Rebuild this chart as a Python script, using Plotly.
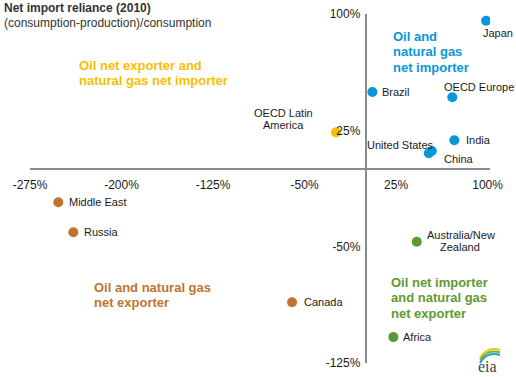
import plotly.graph_objects as go

# ---- data (percent net import reliance, 2010) ----
regions = ["Japan", "Brazil", "OECD Europe", "India", "United States", "China",
           "OECD Latin America", "Middle East", "Russia", "Canada",
           "Australia/New Zealand", "Africa"]
oil = [98.8, 5.6, 71.1, 72.8, 51.8, 54.3, -24.2, -251.8, -239.5, -60.2, 42.0, 22.8]
gas = [95.7, 49.7, 46.3, 18.6, 10.2, 11.7, 23.7, -21.4, -40.7, -85.8, -46.8, -108.3]
group = ["imp", "imp", "imp", "imp", "imp", "imp", "oexp", "exp", "exp", "exp", "oimp", "oimp"]

x_ticks = [-275, -200, -125, -50, 25, 100]
y_ticks = [100, 25, -50, -125]
x_range = [-275, 102]
y_range = [-125, 100]

colors = {"imp": "#0a96d8", "oexp": "#f7c000", "exp": "#bf7430", "oimp": "#5e9a32"}

# label placement: lines of text with pixel offsets from the marker
label_lines = {
    "Japan": [("Japan", 12, -12, "center")],
    "Brazil": [("Brazil", 8, 0, "left")],
    "OECD Europe": [("OECD Europe", 27, 10, "center")],
    "India": [("India", 10, 0, "left")],
    "United States": [("United States", 7, 8, "right")],
    "China": [("China", 10, -8, "left")],
    "OECD Latin America": [("OECD Latin", -53, 19, "center"), ("America", -53, 7, "center")],
    "Middle East": [("Middle East", 9, 0, "left")],
    "Russia": [("Russia", 9, 0, "left")],
    "Canada": [("Canada", 10, 0, "left")],
    "Australia/New Zealand": [("Australia/New", 44, 7, "center"), ("Zealand", 43, -5, "center")],
    "Africa": [("Africa", 8, 0, "left")],
}

FONT = "Liberation Sans, Arial, sans-serif"

fig = go.Figure()
for g in ["imp", "oexp", "exp", "oimp"]:
    idx = [i for i, gg in enumerate(group) if gg == g]
    fig.add_trace(go.Scatter(
        x=[oil[i] for i in idx], y=[gas[i] for i in idx],
        mode="markers", marker=dict(size=10, color=colors[g], line=dict(width=0)),
        hoverinfo="text", text=[regions[i] for i in idx], showlegend=False))

annotations = []
for r, xv, yv in zip(regions, oil, gas):
    for t, dx, dy, anc in label_lines[r]:
        annotations.append(dict(
            x=xv, y=yv, xref="x", yref="y", text=t,
            showarrow=False, xanchor=anc, yanchor="middle",
            xshift=dx, yshift=dy, font=dict(family=FONT, size=11, color="#1a1a1a")))

# quadrant labels (one annotation per line for tight line spacing)
quads = [
    (["Oil and", "natural gas", "net importer"], 20.9, 85.8, colors["imp"]),
    (["Oil net exporter and", "natural gas net importer"], -236.5, 67.1, colors["oexp"]),
    (["Oil and natural gas", "net exporter"], -224, -76.0, colors["exp"]),
    (["Oil net importer", "and natural gas", "net exporter"], 19.3, -72.8, colors["oimp"]),
]
for lines, xv, yv, c in quads:
    for i, t in enumerate(lines):
        annotations.append(dict(
            x=xv, y=yv, xref="x", yref="y", text="<b>" + t + "</b>", showarrow=False,
            xanchor="left", yanchor="middle", yshift=-15.5 * i,
            font=dict(family=FONT, size=13, color=c)))

# titles
annotations.append(dict(x=-0.061, y=1.0186, xref="paper", yref="paper",
                        text="<b>Net import reliance (2010)</b>", showarrow=False,
                        xanchor="left", yanchor="middle",
                        font=dict(family=FONT, size=12, color="#333333")))
annotations.append(dict(x=-0.061, y=0.974, xref="paper", yref="paper",
                        text="(consumption-production)/consumption", showarrow=False,
                        xanchor="left", yanchor="middle",
                        font=dict(family=FONT, size=12, color="#333333")))
# eia logo text
annotations.append(dict(x=(487 - 30) / 460, y=(363 - 366) / 349, xref="paper", yref="paper",
                        text="eia", showarrow=False, xanchor="center", yanchor="middle",
                        font=dict(family="Liberation Serif, serif", size=16, color="#444444")))

def px2paper(px, py):
    return (px - 30) / 460, (363 - py) / 349

shapes = []
for (c, off) in [("#f5c400", 0), ("#6fb53a", 2.5), ("#1aa0dc", 5)]:
    x0, y0 = px2paper(480, 358 + off)
    xc, yc = px2paper(487, 346 + off)
    x1, y1 = px2paper(500, 350 + off)
    shapes.append(dict(type="path", xref="paper", yref="paper",
                       path=f"M {x0},{y0} Q {xc},{yc} {x1},{y1}",
                       line=dict(color=c, width=2)))

fy = (0 - y_range[0]) / (y_range[1] - y_range[0])
fx = (0 - x_range[0]) / (x_range[1] - x_range[0])

fig.update_layout(
    width=516, height=377,
    margin=dict(l=30, r=26, t=14, b=14, autoexpand=False),
    paper_bgcolor="white", plot_bgcolor="white",
    font=dict(family=FONT, size=12, color="#1a1a1a"),
    xaxis=dict(range=x_range, tickvals=x_ticks, ticktext=[f"{v}%" for v in x_ticks],
               showgrid=False, zeroline=False, showline=True, linecolor="#8a8a8a",
               linewidth=1.5, anchor="free", position=fy, side="bottom", automargin=False,
               ticks="", ticklabelstandoff=5, tickfont=dict(size=12, color="#1a1a1a")),
    yaxis=dict(range=y_range, tickvals=y_ticks, ticktext=[f"{v}%" for v in y_ticks],
               showgrid=False, zeroline=False, showline=True, linecolor="#8a8a8a",
               linewidth=1.5, anchor="free", position=fx, side="left", automargin=False,
               ticks="", ticklabelstandoff=2, tickfont=dict(size=12, color="#1a1a1a")),
    annotations=annotations, shapes=shapes,
)

fig.write_html("out.html", config={"displayModeBar": False},
               post_script="document.body.style.margin='0';document.body.style.overflow='hidden';")
